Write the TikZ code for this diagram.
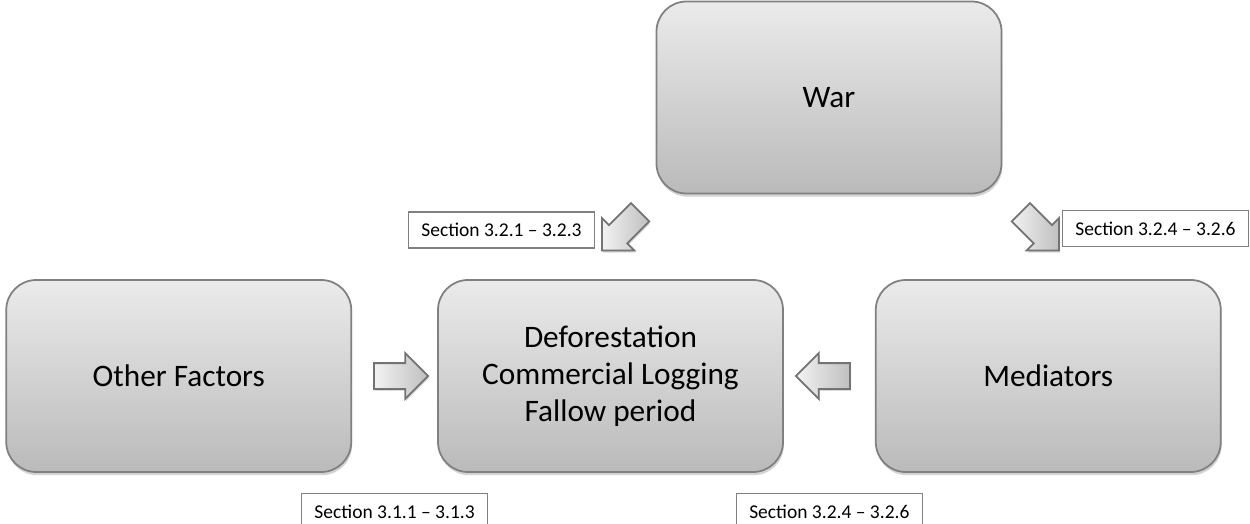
\documentclass[tikz,border=0pt]{standalone}
\usepackage{fontspec}
\setmainfont{Carlito}
\usetikzlibrary{shapes, arrows, positioning, shadows, calc}

\begin{document}
\begin{tikzpicture}[
block/.style={rectangle, text centered, align=center, rounded corners=0.6cm,
minimum width=6.9cm, minimum height=3.84cm, line width=1pt, draw=black!50,
top color=black!8, bottom color=black!27,
drop shadow={shadow xshift=0.5pt, shadow yshift=-1.8pt, opacity=0.35},
font=\fontsize{17.8}{21}\selectfont},
tag/.style={rectangle, draw=black!50, line width=0.6pt, fill=white, inner sep=0pt,
minimum width=3.72cm, minimum height=0.72cm, font=\fontsize{11.1}{13}\selectfont},
fat/.style={single arrow, draw=black!55, line width=1pt, inner xsep=0pt, inner ysep=0.24cm,
minimum height=1.08cm, minimum width=0.88cm, single arrow head extend=0.2cm,
left color=black!5, right color=black!25,
drop shadow={shadow xshift=0.6pt, shadow yshift=-1.2pt, opacity=0.3}}
]
\useasboundingbox (0,0) rectangle (25,-10.48);

\node[block] (core) at (12.21,-7.52) {Deforestation\\Commercial Logging\\Fallow period};
\node[block, left=1.7cm of core] (other) {Other Factors};
\node[block, right=1.82cm of core] (med) {Mediators};
\node[block] (war) at (16.58,-1.95) {War};

\node[fat] (rarr) at ($(other.east)!0.5!(core.west)$) {};
\node[fat, rotate=180] (larr) at ($(core.east)!0.5!(med.west)$) {};
\node[fat, rotate=-135] (swarr) at ($(war.south west)!0.5!(core.north) + (-0.15,0.2)$) {};
\node[fat, rotate=-45] (searr) at ($(war.south east)!0.5!(med.north) + (0.2,0.2)$) {};

\node[tag] (tagwar) at (10.03,-4.6) {Section 3.2.1 – 3.2.3};
\node[tag] (tagmed) at (23.11,-4.57) {Section 3.2.4 – 3.2.6};
\node[tag, anchor=north] (tagother) at ($(core.south -| rarr) + (0,-0.4)$) {Section 3.1.1 – 3.1.3};
\node[tag, anchor=north] (tagcore) at ($(core.south -| larr) + (0,-0.4)$) {Section 3.2.4 – 3.2.6};
\end{tikzpicture}
\end{document}
